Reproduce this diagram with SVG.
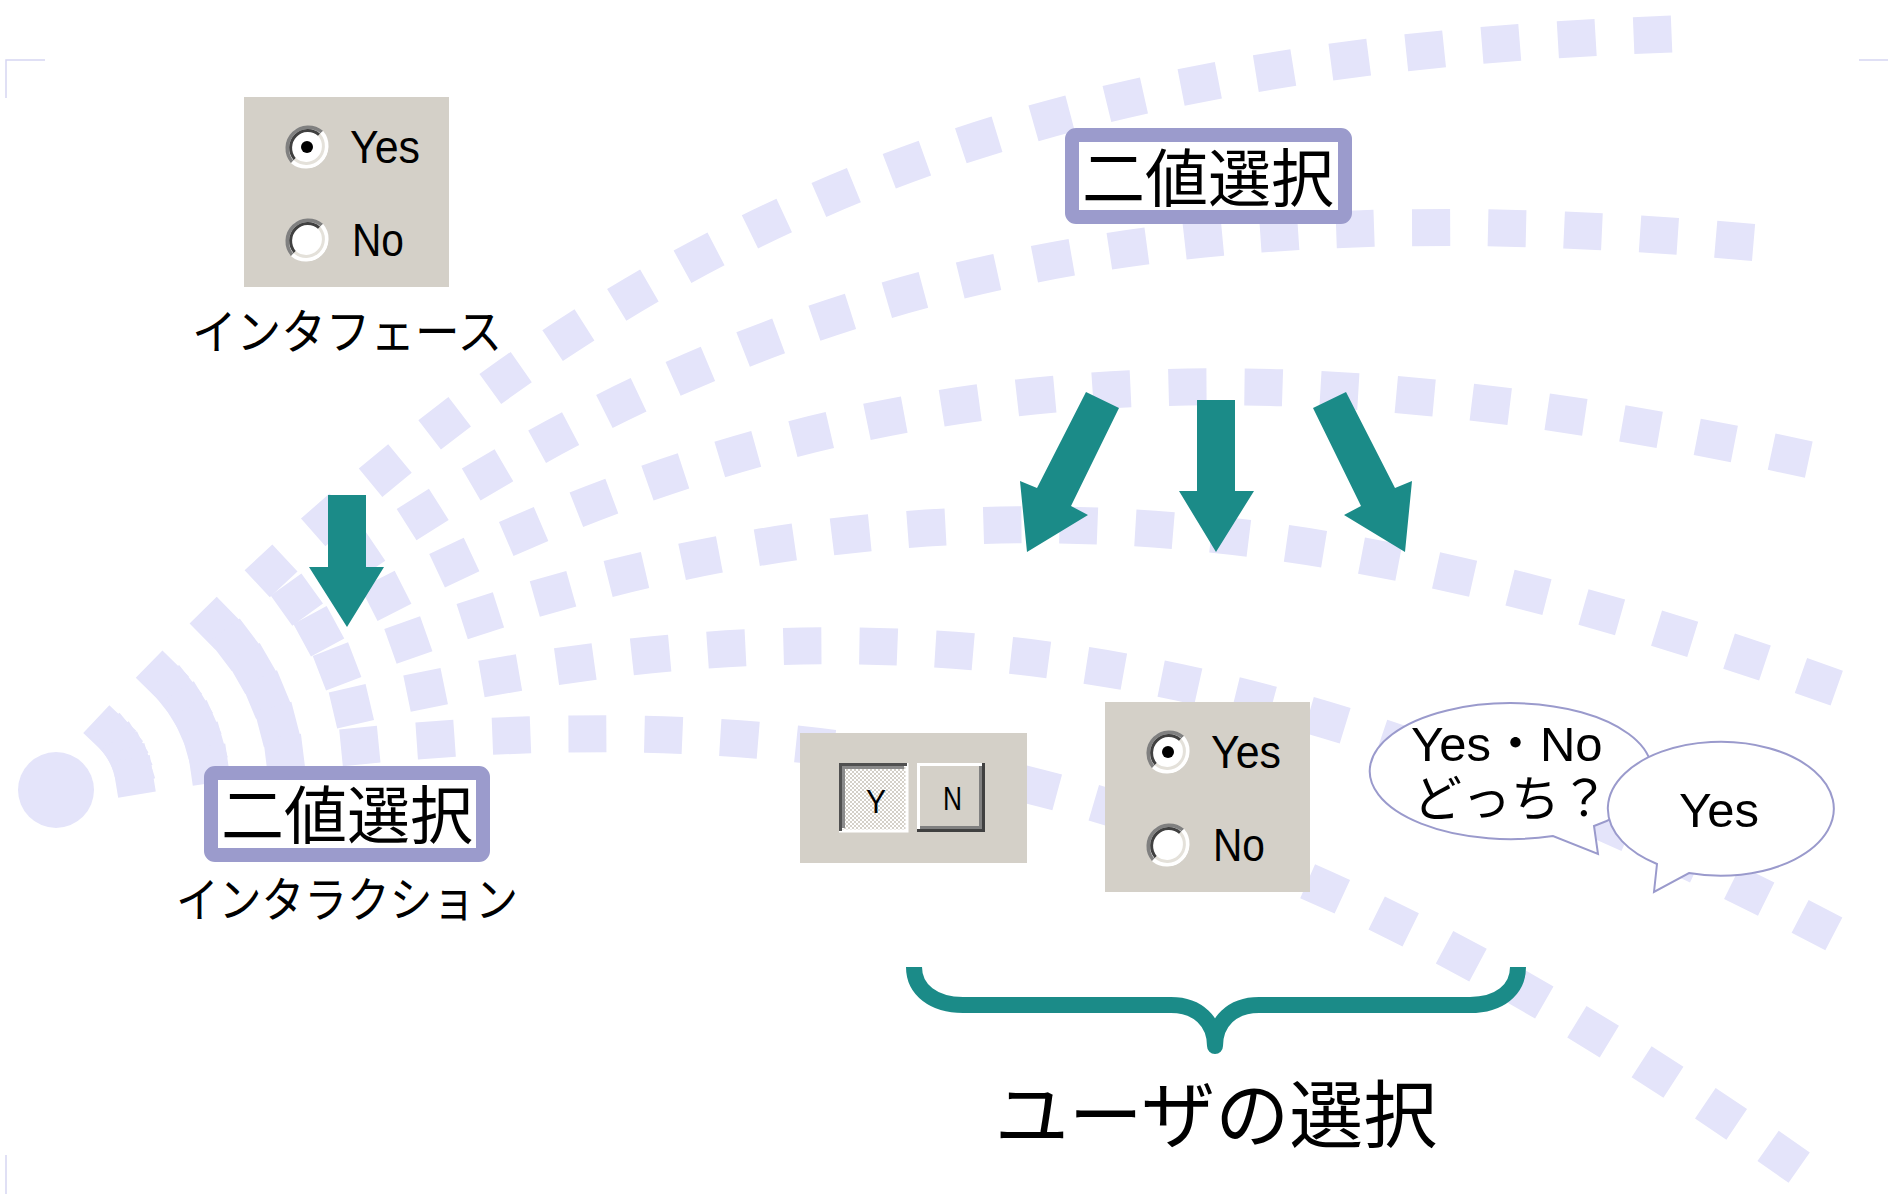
<svg xmlns="http://www.w3.org/2000/svg" width="1888" height="1194" viewBox="0 0 1888 1194">
<defs>
<style>
.bg{fill:none;stroke:#e4e4fa;stroke-width:37;stroke-dasharray:38 38;stroke-dashoffset:16}
.jp{font-family:"Noto Sans CJK JP","Liberation Sans",sans-serif;fill:#000}
.lat{font-family:"Liberation Sans","Noto Sans CJK JP",sans-serif;fill:#000}
.arrow{fill:#1b8b88}
.tag{fill:#fff;stroke:#9b9bcc;stroke-width:14}
.bubble{fill:#fff;stroke:#9a9acc;stroke-width:2}
.panel{fill:#d4d0c8}
.frame{stroke:#d6d6f2;stroke-width:1.5;fill:none}
.brace{fill:none;stroke:#1b8b88;stroke-width:16;stroke-linejoin:round}
</style>
<pattern id="dither" width="4" height="4" patternUnits="userSpaceOnUse">
<rect width="4" height="4" fill="#d4d0c8"/>
<rect width="2" height="2" fill="#fff"/>
<rect x="2" y="2" width="2" height="2" fill="#fff"/>
</pattern>
<path id="curve" d="M56,790 C717,468 1162,443 1853,694"/>
<g id="radioBtn">
<circle r="21" fill="#fff"/>
<path d="M-14.8,14.8 A21 21 0 0 1 14.8,-14.8" stroke="#808080" stroke-width="3.5" fill="none"/>
<path d="M14.8,-14.8 A21 21 0 0 1 -14.8,14.8" stroke="#ffffff" stroke-width="3.5" fill="none"/>
<path d="M-12.2,12.2 A17.3 17.3 0 0 1 12.2,-12.2" stroke="#404040" stroke-width="3" fill="none"/>
<path d="M12.2,-12.2 A17.3 17.3 0 0 1 -12.2,12.2" stroke="#e4e1da" stroke-width="3" fill="none"/>
</g>
<g id="radioPanel">
<rect width="205" height="190" class="panel"/>
<use href="#radioBtn" transform="translate(63,50)"/>
<circle cx="63" cy="50" r="6" fill="#000"/>
<use href="#radioBtn" transform="translate(63,143)"/>
<text class="lat" x="106" y="66" font-size="46" textLength="70" lengthAdjust="spacingAndGlyphs">Yes</text>
<text class="lat" x="108" y="159" font-size="46" textLength="52" lengthAdjust="spacingAndGlyphs">No</text>
</g>
</defs>

<g id="background">
<use href="#curve" class="bg" transform="rotate(-21.8 56 790)"/>
<use href="#curve" class="bg" transform="rotate(-14.6 56 790)"/>
<use href="#curve" class="bg" transform="rotate(-7.4 56 790)"/>
<use href="#curve" class="bg"/>
<use href="#curve" class="bg" transform="rotate(7.9 56 790)"/>
<use href="#curve" class="bg" transform="rotate(15.5 56 790)"/>
<circle cx="56" cy="790" r="38" fill="#e4e4fa"/>
<path class="frame" d="M6,98 V60 H45 M1859,60 H1888 M6,1155 V1194"/>
</g>

<g id="iface-panel" transform="translate(244,97)">
<use href="#radioPanel"/>
</g>
<g id="iface-label">
<text class="jp" x="347" y="349" font-size="48" text-anchor="middle" textLength="310" lengthAdjust="spacingAndGlyphs">インタフェース</text>
</g>

<g id="interaction-tag">
<rect class="tag" x="211" y="773" width="272" height="82" rx="4"/>
<text class="jp" x="347" y="838" font-size="63" text-anchor="middle">二値選択</text>
<text class="jp" x="347" y="917" font-size="48" text-anchor="middle" textLength="342" lengthAdjust="spacingAndGlyphs">インタラクション</text>
</g>

<g id="binary-tag">
<rect class="tag" x="1072" y="135" width="273" height="82" rx="4"/>
<text class="jp" x="1208" y="201" font-size="63" text-anchor="middle">二値選択</text>
</g>

<g id="yn-panel" transform="translate(800,733)">
<rect width="227" height="130" class="panel"/>
<rect x="39" y="30" width="68" height="68" fill="url(#dither)"/>
<path d="M39,98 H107 V30" stroke="#fff" stroke-width="3" fill="none"/>
<path d="M40.5,98 V31.5 H107" stroke="#505050" stroke-width="3" fill="none"/>
<path d="M43.5,95 V34.5 H104" stroke="#8a8a8a" stroke-width="3" fill="none"/>
<text class="lat" x="76" y="80" font-size="33" text-anchor="middle" textLength="20" lengthAdjust="spacingAndGlyphs">Y</text>
<rect x="117" y="30" width="68" height="69" class="panel"/>
<path d="M118.5,99 V31.5 H185" stroke="#fff" stroke-width="3" fill="none"/>
<path d="M117,97.5 H183.5 V30" stroke="#404040" stroke-width="3" fill="none"/>
<path d="M120,94.5 H180.5 V33" stroke="#808080" stroke-width="3" fill="none"/>
<text class="lat" x="152.5" y="77" font-size="33" text-anchor="middle" textLength="19" lengthAdjust="spacingAndGlyphs">N</text>
</g>

<g id="choice-panel" transform="translate(1105,702)">
<use href="#radioPanel"/>
</g>

<g id="bubble-question">
<path class="bubble" d="M1594,826 A141 68 0 1 0 1553,836 L1598,854 Z"/>
<text class="lat" font-size="49"><tspan x="1411" y="761">Yes・No</tspan><tspan x="1413" y="816" font-family="Noto Sans CJK JP, sans-serif">どっち？</tspan></text>
</g>

<g id="bubble-answer">
<path class="bubble" d="M1689,873 A113 67 0 1 0 1657,864 L1654,892 Z"/>
<text class="lat" x="1679" y="827" font-size="49">Yes</text>
</g>

<g id="user-choice">
<path class="brace" d="M914,967 C914,990 934,1005 963,1005 L1171,1005 C1198,1005 1215,1022 1215,1046 C1215,1022 1232,1005 1259,1005 L1470,1005 C1499,1005 1518,990 1518,967"/>
<text class="jp" x="1216" y="1142" font-size="74" text-anchor="middle">ユーザの選択</text>
</g>

<g id="connectors">
<polygon class="arrow" points="328,495 366,495 366,567 384,567 347,627 309,567 328,567"/>
<polygon class="arrow" points="1086,392 1119,408 1071,506 1088,515 1027,552 1020,481 1037,488"/>
<polygon class="arrow" points="1197,400 1235,400 1235,491 1254,491 1216,552 1179,491 1197,491"/>
<polygon class="arrow" points="1346,392 1313,408 1361,506 1344,515 1405,552 1412,481 1395,488"/>
</g>
</svg>
